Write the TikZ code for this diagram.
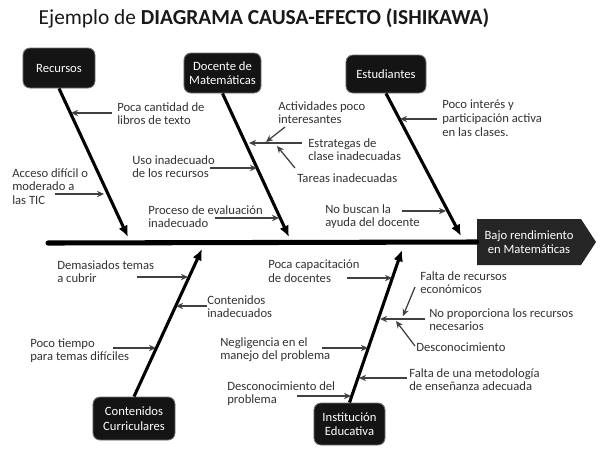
\documentclass[tikz,border=0pt]{standalone}
\usepackage{fontspec}
\setmainfont{Carlito}
\usetikzlibrary{arrows.meta,calc}
\begin{document}
\begin{tikzpicture}[x=0.025cm,y=-0.025cm,
  lbl/.style={font=\fontsize{9}{9.9}\selectfont, text=black!80, align=left, inner sep=0pt, anchor=north west},
  catbox/.style={fill=black!92, draw=black!55, line width=0.6pt, rounded corners=5pt, text=white,
    font=\fontsize{9}{10.2}\selectfont, align=center, inner sep=0pt},
  bone/.style={line width=2.2pt, draw=black, -{Latex[length=8pt,width=7pt]}},
  sub/.style={line width=0.9pt, draw=black!75, -{Stealth[length=5pt,width=4.5pt]}},
]
\useasboundingbox (0,0) rectangle (600,450);
\fill[white] (0,0) rectangle (600,450);

% title
\node[font=\fontsize{15.2}{17}\selectfont, text=black!90, inner sep=0pt] (title) at (264,18)
  {Ejemplo de \textbf{DIAGRAMA CAUSA-EFECTO (ISHIKAWA)}};

% effect
\coordinate (p1) at (477,219); \coordinate (p2) at (581,219); \coordinate (p3) at (596,242);
\coordinate (p4) at (581,265); \coordinate (p5) at (477,265);
\fill[black!85] (p1) -- (p2) -- (p3) -- (p4) -- (p5) -- cycle;
\node[inner sep=0pt, minimum width=2.6cm, minimum height=1.15cm, text=white, align=center,
  font=\fontsize{9}{10.2}\selectfont] (eff) at (529,242) {Bajo rendimiento\\en Matemáticas};

% spine
\coordinate (sp) at (48,243);
\draw[line width=3.6pt, line cap=round] (sp) -- (eff.west);

% category boxes
\node[catbox, minimum width=1.8cm, minimum height=1.0cm] (rec) at (59,68) {Recursos};
\node[catbox, minimum width=1.925cm, minimum height=1.0cm] (doc) at (222.5,73) {Docente de\\Matemáticas};
\node[catbox, minimum width=2.0cm, minimum height=0.95cm] (est) at (386,74) {Estudiantes};
\node[catbox, minimum width=2.05cm, minimum height=1.075cm] (cc) at (134,418.5) {Contenidos\\Curriculares};
\node[catbox, minimum width=1.775cm, minimum height=1.05cm] (ie) at (349.5,424) {Institución\\Educativa};

% bones
\coordinate (recT) at (128,237);
\coordinate (docT) at (289,237);
\coordinate (estT) at (461,236);
\coordinate (ccT) at (202,249);
\coordinate (ieT) at (402,250);
\draw[bone] (rec.south) -- (recT);
\draw[bone] (doc.south) -- (docT);
\draw[bone] (est.south) -- (estT);
\draw[bone] (cc.north) -- (ccT);
\draw[bone] (ie.north) -- (ieT);

% Recursos causes
\node[lbl] (t1) at (117,102) {Poca cantidad de\\libros de texto};
\coordinate (a1s) at (112,113); \coordinate (a1e) at (71,113);
\draw[sub] (a1s) -- (a1e);
\node[lbl] (t2) at (12,168) {Acceso difícil o\\moderado a\\las TIC};
\coordinate (a2s) at (55,194); \coordinate (a2e) at (104,194);
\draw[sub] (a2s) -- (a2e);

% Docente causes
\node[lbl] (t3) at (132,155) {Uso inadecuado\\de los recursos};
\coordinate (a3s) at (210,168); \coordinate (a3e) at (257,168);
\draw[sub] (a3s) -- (a3e);
\node[lbl] (t4) at (148,205) {Proceso de evaluación\\inadecuado};
\coordinate (a4s) at (215,218); \coordinate (a4e) at (279,218);
\draw[sub] (a4s) -- (a4e);
\node[lbl] (t5) at (278,101) {Actividades poco\\interesantes};
\coordinate (a5s) at (285,127); \coordinate (a5e) at (266,142);
\draw[sub] (a5s) -- (a5e);
\node[lbl] (t6) at (308,138) {Estrategas de\\clase inadecuadas};
\coordinate (a6s) at (302,143); \coordinate (a6e) at (249,143);
\draw[sub] (a6s) -- (a6e);
\node[lbl] (t7) at (297,173) {Tareas inadecuadas};
\coordinate (a7s) at (295,168); \coordinate (a7e) at (277,146);
\draw[sub] (a7s) -- (a7e);

% Estudiantes causes
\node[lbl] (t8) at (442,100) {Poco interés y\\participación activa\\en las clases.};
\coordinate (a8s) at (437,119); \coordinate (a8e) at (400,119);
\draw[sub] (a8s) -- (a8e);
\node[lbl] (t9) at (325,204) {No buscan la\\ayuda del docente};
\coordinate (a9s) at (402,211); \coordinate (a9e) at (446,211);
\draw[sub] (a9s) -- (a9e);

% Contenidos causes
\node[lbl] (t10) at (57,260) {Demasiados temas\\a cubrir};
\coordinate (a10s) at (137,277); \coordinate (a10e) at (188,277);
\draw[sub] (a10s) -- (a10e);
\node[lbl] (t11) at (207,295) {Contenidos\\inadecuados};
\coordinate (a11s) at (207,306); \coordinate (a11e) at (176,306);
\draw[sub] (a11s) -- (a11e);
\node[lbl] (t12) at (30,338) {Poco tiempo\\para temas difíciles};
\coordinate (a12s) at (113,348); \coordinate (a12e) at (156,348);
\draw[sub] (a12s) -- (a12e);

% Institucion causes
\node[lbl] (t13) at (268,260) {Poca capacitación\\de docentes};
\coordinate (a13s) at (347,278); \coordinate (a13e) at (392,278);
\draw[sub] (a13s) -- (a13e);
\node[lbl] (t14) at (220,337) {Negligencia en el\\manejo del problema};
\coordinate (a14s) at (322,348); \coordinate (a14e) at (368,348);
\draw[sub] (a14s) -- (a14e);
\node[lbl] (t15) at (227,381) {Desconocimiento del\\problema};
\coordinate (a15s) at (297,396); \coordinate (a15e) at (351,396);
\draw[sub] (a15s) -- (a15e);
\node[lbl] (t16) at (420,271) {Falta de recursos\\económicos};
\coordinate (a16s) at (415,287); \coordinate (a16e) at (403,316);
\draw[sub] (a16s) -- (a16e);
\node[lbl] (t17) at (429,308) {No proporciona los recursos\\necesarios};
\coordinate (a17s) at (425,319); \coordinate (a17e) at (380,319);
\draw[sub] (a17s) -- (a17e);
\node[lbl] (t18) at (416,343) {Desconocimiento};
\coordinate (a18s) at (415,346); \coordinate (a18e) at (396,321);
\draw[sub] (a18s) -- (a18e);
\node[lbl] (t19) at (409,368) {Falta de una metodología\\de enseñanza adecuada};
\coordinate (a19s) at (407,378); \coordinate (a19e) at (359,378);
\draw[sub] (a19s) -- (a19e);
\end{tikzpicture}
\end{document}
